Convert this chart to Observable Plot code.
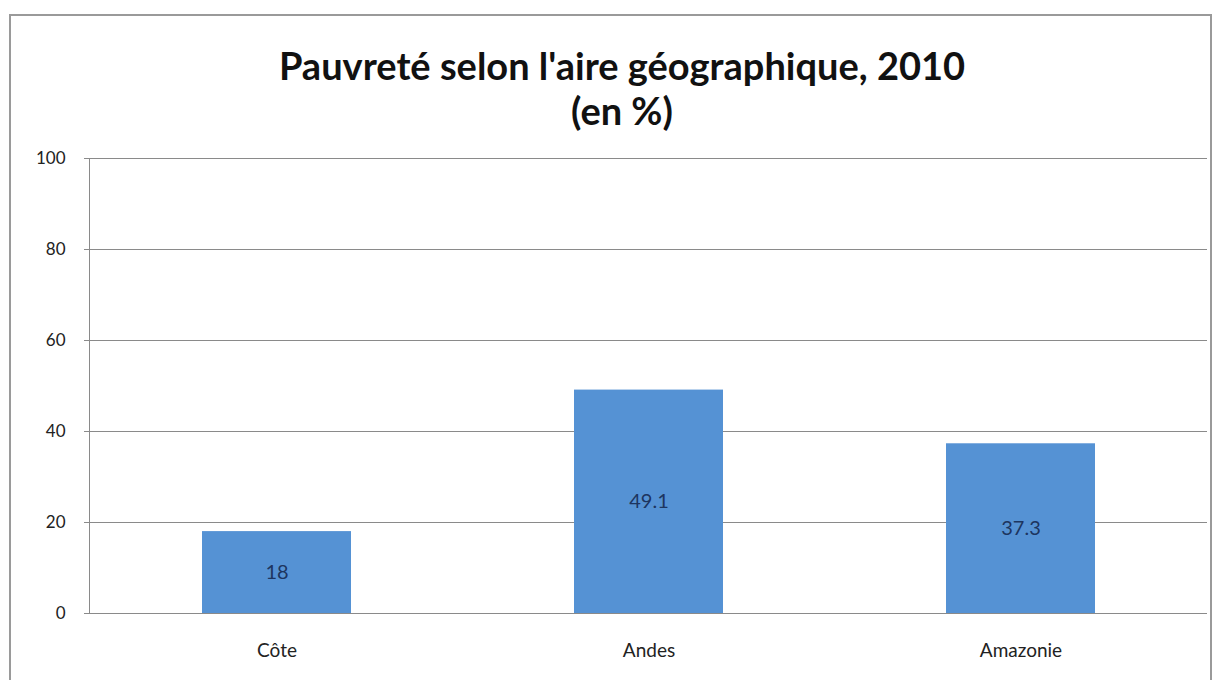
<!DOCTYPE html>
<html>
<head>
<meta charset="utf-8">
<script src="https://cdn.jsdelivr.net/npm/d3@7"></script>
<script src="https://cdn.jsdelivr.net/npm/@observablehq/plot@0.6"></script>
<style>
  html, body { margin: 0; padding: 0; background: #fff; width: 1218px; height: 680px; overflow: hidden; }
  #frame { position: absolute; left: 9px; top: 14px; width: 1203px; height: 700px; border: 2px solid #9a9a9a; box-sizing: border-box; }
  #title { position: absolute; left: 0; top: 43px; width: 1244px; text-align: center; font-family: Lato, "Open Sans", sans-serif; font-weight: 700; font-size: 38px; line-height: 45px; color: #111; }
  #chart { position: absolute; left: 0; top: 130px; }
</style>
</head>
<body>
<div id="frame"></div>
<div id="title">Pauvreté selon l'aire géographique, 2010<br>(en %)</div>
<div id="chart"></div>
<script>
const categories = ["Côte", "Andes", "Amazonie"];
const values = [18, 49.1, 37.3];
const yTicks = [0, 20, 40, 60, 80, 100];

const data = categories.map((c, i) => ({ region: c, value: values[i] }));

const chart = Plot.plot({
  width: 1218,
  height: 550,
  marginLeft: 89,
  marginRight: 11,
  marginTop: 28,
  marginBottom: 67,
  style: { fontFamily: "Lato, 'Open Sans', sans-serif", fontSize: "16px", color: "#222", background: "transparent" },
  x: { domain: categories, paddingInner: 0.6, paddingOuter: 0.3, label: null },
  y: { domain: [0, 100], label: null },
  marks: [
    Plot.gridY(yTicks, { stroke: "#8a8a8a", strokeOpacity: 1, strokeWidth: 1 }),
    Plot.barY(data, { x: "region", y: "value", fill: "#5592d4" }),
    Plot.text(data, { x: "region", y: d => d.value / 2, text: d => String(d.value), fill: "#1d3560", fontSize: 20 }),
    Plot.axisY({ ticks: yTicks, tickSize: 5, tickPadding: 19, stroke: "#8a8a8a", fill: "#222", fontSize: 17, label: null }),
    Plot.axisX({ tickSize: 0, tickPadding: 30, fill: "#222", fontSize: 19, label: null }),
    Plot.ruleY([0], { stroke: "#8a8a8a" }),
    Plot.frame({ anchor: "left", stroke: "#8a8a8a" })
  ]
});
document.getElementById("chart").appendChild(chart);
</script>
</body>
</html>
